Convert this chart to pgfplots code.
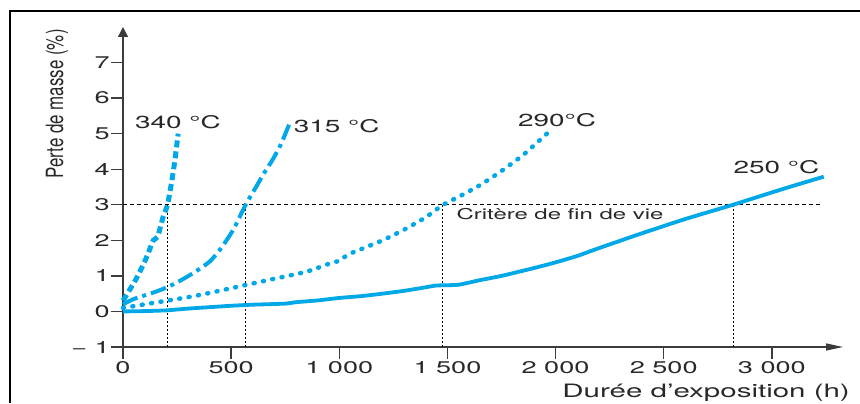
\documentclass[border=0pt]{standalone}
\usepackage{pgfplots}
\pgfplotsset{compat=1.18}
\usetikzlibrary{arrows.meta}
\usepackage{fontspec}
\setmainfont{TeX Gyre Heros}
\definecolor{cyanl}{RGB}{0,168,232}
\definecolor{txt}{RGB}{40,40,40}
\definecolor{axisc}{RGB}{60,60,60}
\newcommand\sx[1]{\scalebox{1.6}[1]{#1}}
\begin{document}
\begin{tikzpicture}[x=1bp,y=1bp]
\path[use as bounding box] (0,0) rectangle (860,403);
\draw[line width=2.2bp] (10,0) -- (10,392) -- (860,392);
\begin{axis}[
  at={(123bp,56bp)}, anchor=south west, scale only axis,
  width=720bp, height=320bp,
  xmin=0, xmax=3329, ymin=-1, ymax=8,
  axis lines=left,
  axis line style={color=axisc, line width=1.3bp},
  x axis line style={-{Triangle[length=17bp,width=7bp]}},
  y axis line style={-{Triangle[length=10bp,width=10bp]}},
  tick align=outside,
  major tick length=12bp,
  tick style={color=axisc, line width=1.3bp},
  xtick={0,500,1000,1500,2000,2500,3000},
  xticklabels={\sx{0},\sx{500},\sx{1 000},\sx{1 500},\sx{2 000},\sx{2 500},\sx{3 000}},
  ytick={-1,0,1,2,3,4,5,6,7},
  yticklabels={\sx{− 1},\sx{0},\sx{1},\sx{2},\sx{3},\sx{4},\sx{5},\sx{6},\sx{7}},
  every tick label/.append style={font=\fontsize{17}{20}\selectfont, text=txt},
  yticklabel style={inner sep=1bp},
  xticklabel style={inner sep=2bp},
  xlabel={\sx{Durée d’exposition (h)}},
  xlabel style={at={(axis description cs:1,0)}, anchor=base east, yshift=-50bp, xshift=7bp, inner sep=0pt, font=\fontsize{18.5}{22}\selectfont, text=txt},
  ylabel={\scalebox{1.4}[1]{\rotatebox{90}{Perte de masse (\%)}}},
  ylabel style={at={(axis description cs:0,0)}, anchor=center, rotate=-90, xshift=-66bp, yshift=243bp, inner sep=0pt, font=\fontsize{17}{20}\selectfont, text=txt},
  clip=false,
]
% reference lines
\addplot[black, line width=0.7bp, dash pattern=on 4bp off 3bp] coordinates {(0,3) (3230,3)};
\addplot[black, line width=0.7bp, dash pattern=on 2bp off 2bp] coordinates {(206,-1) (206,3)};
\addplot[black, line width=0.7bp, dash pattern=on 2bp off 2bp] coordinates {(567,-1) (567,3)};
\addplot[black, line width=0.7bp, dash pattern=on 2bp off 2bp] coordinates {(1478,-1) (1478,3)};
\addplot[black, line width=0.7bp, dash pattern=on 2bp off 2bp] coordinates {(2822,-1) (2822,3)};
% 250 C
\addplot[cyanl, line width=3.8bp, smooth, tension=0.3] coordinates {
(0,0) (100,0.01) (200,0.03) (300,0.08) (400,0.12) (500,0.16) (600,0.19) (750,0.22)
(800,0.26) (900,0.31) (1000,0.38) (1100,0.43) (1200,0.5) (1300,0.58) (1400,0.68)
(1450,0.73) (1550,0.75) (1650,0.88) (1750,1.0) (1900,1.22) (2000,1.38) (2100,1.56)
(2200,1.78) (2400,2.2) (2600,2.6) (2820,3.0) (2950,3.25) (3070,3.48) (3240,3.79)};
% 290 C
\addplot[cyanl, line width=4.5bp, line cap=round, dash pattern=on 1bp off 8.5bp, smooth, tension=0.3] coordinates {
(0,0.1) (100,0.2) (200,0.3) (300,0.4) (400,0.52) (550,0.72) (700,0.92) (850,1.12)
(970,1.38) (1000,1.42) (1040,1.6) (1100,1.75) (1200,2.0) (1300,2.3) (1400,2.65)
(1480,3.0) (1560,3.25) (1650,3.55) (1750,3.95) (1850,4.4) (1960,5.0)};
% 315 C
\addplot[cyanl, line width=4bp, dash pattern=on 16bp off 5bp on 4bp off 5bp, smooth, tension=0.4] coordinates {
(0,0.2) (50,0.35) (140,0.53) (200,0.67) (260,0.85) (330,1.1) (400,1.4) (450,1.75)
(510,2.3) (567,3.0) (620,3.55) (650,3.87) (690,4.25) (730,4.7) (775,5.36)};
% 340 C
\addplot[cyanl, line width=5bp, dash pattern=on 7bp off 4bp, smooth, tension=0.3] coordinates {
(0,0.3) (30,0.6) (64,0.95) (100,1.4) (116,1.63) (140,2.0) (160,2.1) (185,2.65)
(206,3.0) (225,3.65) (240,4.25) (255,5.0)};
% labels
\node[font=\fontsize{17.5}{20}\selectfont, text=txt] at (axis cs:254,5.32) {\sx{340 °C}};
\node[font=\fontsize{17.5}{20}\selectfont, text=txt] at (axis cs:988,5.21) {\sx{315 °C}};
\node[font=\fontsize{17.5}{20}\selectfont, text=txt] at (axis cs:2007,5.37) {\sx{290°C}};
\node[font=\fontsize{17.5}{20}\selectfont, text=txt] at (axis cs:3021,4.06) {\sx{250 °C}};
\node[font=\fontsize{15}{18}\selectfont, text=txt, anchor=west, inner sep=0pt] at (axis cs:1542,2.75) {\sx{Critère de fin de vie}};
\end{axis}
\end{tikzpicture}
\end{document}
